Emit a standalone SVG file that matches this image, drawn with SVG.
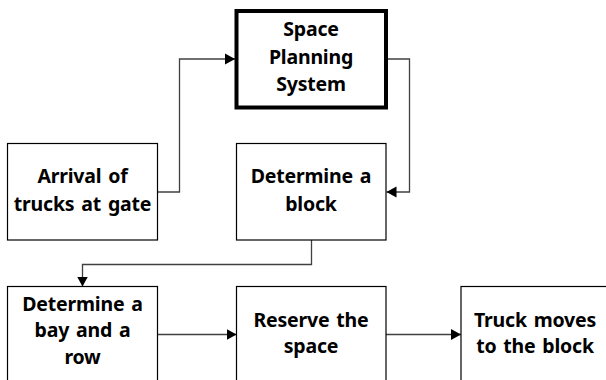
<svg xmlns="http://www.w3.org/2000/svg" width="606" height="380" viewBox="0 0 606 380">
<defs>
<marker id="ah" markerUnits="userSpaceOnUse" markerWidth="11" markerHeight="12" refX="10" refY="6" orient="auto">
<path d="M0,0.5 L10,6 L0,11.5 Z" fill="#000"/>
</marker>
<style>
.box{fill:#fff;stroke:#000;stroke-width:1.2}
.bold{fill:#fff;stroke:#000;stroke-width:4}
.t{font-family:"Noto Sans","Open Sans",sans-serif;font-weight:bold;font-size:19.5px;fill:#000;text-anchor:middle;letter-spacing:-0.2px;word-spacing:2px}
.c{fill:none;stroke:#404040;stroke-width:1.3}
</style>
</defs>
<rect width="606" height="380" fill="#fff"/>
<g id="connectors">
<polyline class="c" points="157.5,192 179.5,192 179.5,59 235,59" marker-end="url(#ah)"/>
<polyline class="c" points="388,59 409.5,59 409.5,192 386.5,192" marker-end="url(#ah)"/>
<polyline class="c" points="311.5,240 311.5,264.5 82.5,264.5 82.5,286.5" marker-end="url(#ah)"/>
<line class="c" x1="157.5" y1="334.5" x2="236.5" y2="334.5" marker-end="url(#ah)"/>
<line class="c" x1="386" y1="334.5" x2="461" y2="334.5" marker-end="url(#ah)"/>
</g>
<g id="space">
<rect class="bold" x="236.5" y="11" width="149.5" height="96.5"/>
<text class="t" x="311" y="36">Space</text>
<text class="t" x="311" y="63.5">Planning</text>
<text class="t" x="311" y="91">System</text>
</g>
<g id="arrival">
<rect class="box" x="7.5" y="143.5" width="150" height="96.5"/>
<text class="t" x="82.5" y="183">Arrival of</text>
<text class="t" x="82.5" y="210.5">trucks at gate</text>
</g>
<g id="block">
<rect class="box" x="236.5" y="143.5" width="149.5" height="96.5"/>
<text class="t" x="311" y="183">Determine a</text>
<text class="t" x="311" y="210.5">block</text>
</g>
<g id="bay">
<rect class="box" x="7.5" y="286.5" width="150" height="96.5"/>
<text class="t" x="82.5" y="310.5">Determine a</text>
<text class="t" x="82.5" y="337">bay and a</text>
<text class="t" x="82.5" y="364">row</text>
</g>
<g id="reserve">
<rect class="box" x="236.5" y="286.5" width="149.5" height="96.5"/>
<text class="t" x="311" y="326.5">Reserve the</text>
<text class="t" x="311" y="353">space</text>
</g>
<g id="truck">
<rect class="box" x="461" y="286.5" width="150" height="96.5"/>
<text class="t" x="535" y="326.5">Truck moves</text>
<text class="t" x="535" y="353">to the block</text>
</g>
</svg>
